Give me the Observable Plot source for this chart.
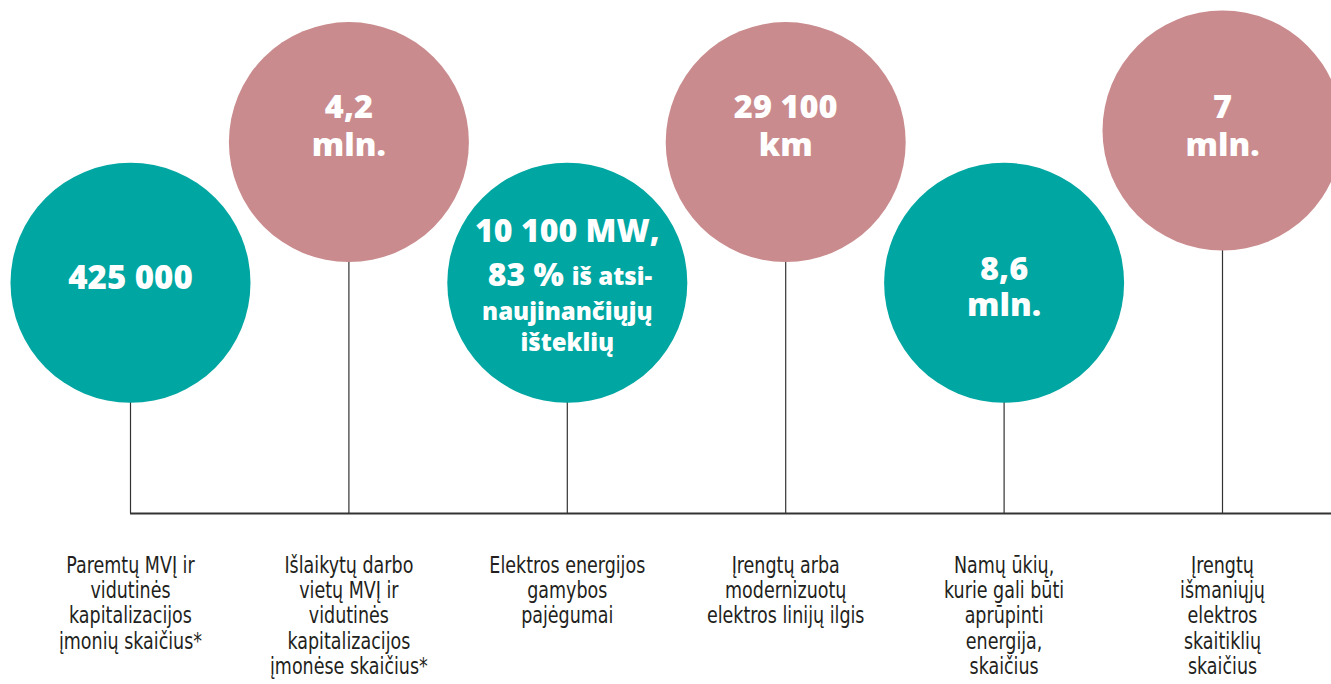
<!DOCTYPE html>
<html lang="lt">
<head>
<meta charset="utf-8">
<script src="https://cdn.jsdelivr.net/npm/d3@7"></script>
<script src="https://cdn.jsdelivr.net/npm/@observablehq/plot@0.6"></script>
<style>
  html, body { margin: 0; padding: 0; background: #ffffff; overflow: hidden; }
  #chart svg { display: block; }
</style>
</head>
<body>
<div id="chart"></div>
<script>
// ---- data ----
const values = [
  "425 000",
  "4,2\nmln.",
  "10 100 MW,\n83 % iš atsi-\nnaujinančiųjų\ništeklių",
  "29 100\nkm",
  "8,6\nmln.",
  "7\nmln."
];
const labels = [
  "Paremtų MVĮ ir\nvidutinės\nkapitalizacijos\nįmonių skaičius*",
  "Išlaikytų darbo\nvietų MVĮ ir\nvidutinės\nkapitalizacijos\nįmonėse skaičius*",
  "Elektros energijos\ngamybos\npajėgumai",
  "Įrengtų arba\nmodernizuotų\nelektros linijų ilgis",
  "Namų ūkių,\nkurie gali būti\naprūpinti\nenergija,\nskaičius",
  "Įrengtų\nišmaniųjų\nelektros\nskaitiklių\nskaičius"
];
const kinds = ["žalia", "rožinė", "žalia", "rožinė", "žalia", "rožinė"];
const tiers = [1, 1.61, 1, 1.61, 1, 1.66];   // bubble elevation above the baseline
const kindDomain = ["žalia", "rožinė"];
const kindColors = ["#00a6a1", "#c98b8d"];

// ---- build table ----
const data = values.map((v, i) => ({i, value: v, label: labels[i], kind: kinds[i], tier: tiers[i]}));
const rowTier = d => d.kind === "rožinė" ? tiers[1] : tiers[0];

const simple = data.filter(d => d.value.split("\n").length <= 2);
const pinkText = simple.filter(d => d.kind === "rožinė");
const tealOne = simple.filter(d => d.kind === "žalia" && !d.value.includes("\n"));
const tealTwo = simple.filter(d => d.kind === "žalia" && d.value.includes("\n"));
const complex = data.filter(d => d.value.split("\n").length > 2);
const parts = d => {
  const L = d.value.split("\n");
  const k = L[1].indexOf(" iš");
  return {l1: L[0], big: L[1].slice(0, k), small: L[1].slice(k + 1), rest: L.slice(2).join("\n")};
};

const bold = "'Open Sans', 'Noto Sans', sans-serif";
const narrow = "'Liberation Sans Narrow', 'DejaVu Sans Condensed', 'Liberation Sans', sans-serif";
const ink = "#333333";
const W = 1331, H = 684;

const chart = Plot.plot({
  width: W,
  height: H,
  marginLeft: 130,
  marginRight: W - 1222,
  marginTop: 0,
  marginBottom: H - 513,
  x: {domain: [0, data.length - 1], axis: null},
  y: {domain: [0, 513 / 230.7], axis: null},
  color: {domain: kindDomain, range: kindColors},
  marks: [
    Plot.ruleY([0], {x1: 0, x2: 6, stroke: ink, strokeWidth: 1.8}),
    Plot.ruleX(data, {x: "i", y1: 0, y2: "tier", stroke: ink, strokeWidth: 1.2}),
    Plot.dot(data, {x: "i", y: "tier", r: 120, fill: "kind", stroke: null}),
    // values inside bubbles
    Plot.text(pinkText, {x: "i", y: rowTier, text: "value", dy: -17, fill: "white",
      fontSize: 32.5, fontWeight: 800, fontFamily: bold, lineHeight: 1.15}),
    Plot.text(tealOne, {x: "i", y: rowTier, text: "value", dy: -4, fill: "white",
      fontSize: 33, fontWeight: 800, fontFamily: bold}),
    Plot.text(tealTwo, {x: "i", y: rowTier, text: "value", dy: 4, fill: "white",
      fontSize: 32.5, fontWeight: 800, fontFamily: bold, lineHeight: 1.1}),
    Plot.text(complex, {x: "i", y: rowTier, text: d => parts(d).l1, dy: -51, fill: "white",
      fontSize: 32, fontWeight: 800, fontFamily: bold}),
    Plot.text(complex, {x: "i", y: rowTier, text: d => parts(d).big, dy: -7.5, dx: -3.5, textAnchor: "end", fill: "white",
      fontSize: 32, fontWeight: 800, fontFamily: bold}),
    Plot.text(complex, {x: "i", y: rowTier, text: d => parts(d).small, dy: -5, dx: 4.5, textAnchor: "start", fill: "white",
      fontSize: 24, fontWeight: 800, fontFamily: bold}),
    Plot.text(complex, {x: "i", y: rowTier, text: d => parts(d).rest, dy: 43, fill: "white",
      fontSize: 24, fontWeight: 800, fontFamily: bold, lineHeight: 1.26}),
    // labels under the baseline
    Plot.text(data, {x: "i", y: 0, text: "label", lineAnchor: "top", dy: 42, fill: "#231f20",
      fontSize: 23, fontFamily: narrow, lineHeight: 1.09})
  ]
});
document.getElementById("chart").appendChild(chart);

// condense the label lettering horizontally (the reference uses a condensed face)
(function condense() {
  const groups = chart.querySelectorAll('g[aria-label="text"]');
  const g = groups[groups.length - 1];
  let ref = null;
  g.querySelectorAll("tspan, text").forEach(n => { if (!ref && n.textContent === "Elektros energijos") ref = n; });
  if (!ref) return;
  const len = ref.getComputedTextLength();
  const s = Math.min(1, 156 / len);
  g.querySelectorAll("text").forEach(t => {
    let tr = t.getAttribute("transform");
    if (!tr) {
      const x = +t.getAttribute("x") || 0, y = +t.getAttribute("y") || 0;
      t.removeAttribute("x"); t.removeAttribute("y");
      tr = `translate(${x},${y})`;
    }
    t.setAttribute("transform", `${tr} scale(${s},1)`);
  });
})();
</script>
</body>
</html>
